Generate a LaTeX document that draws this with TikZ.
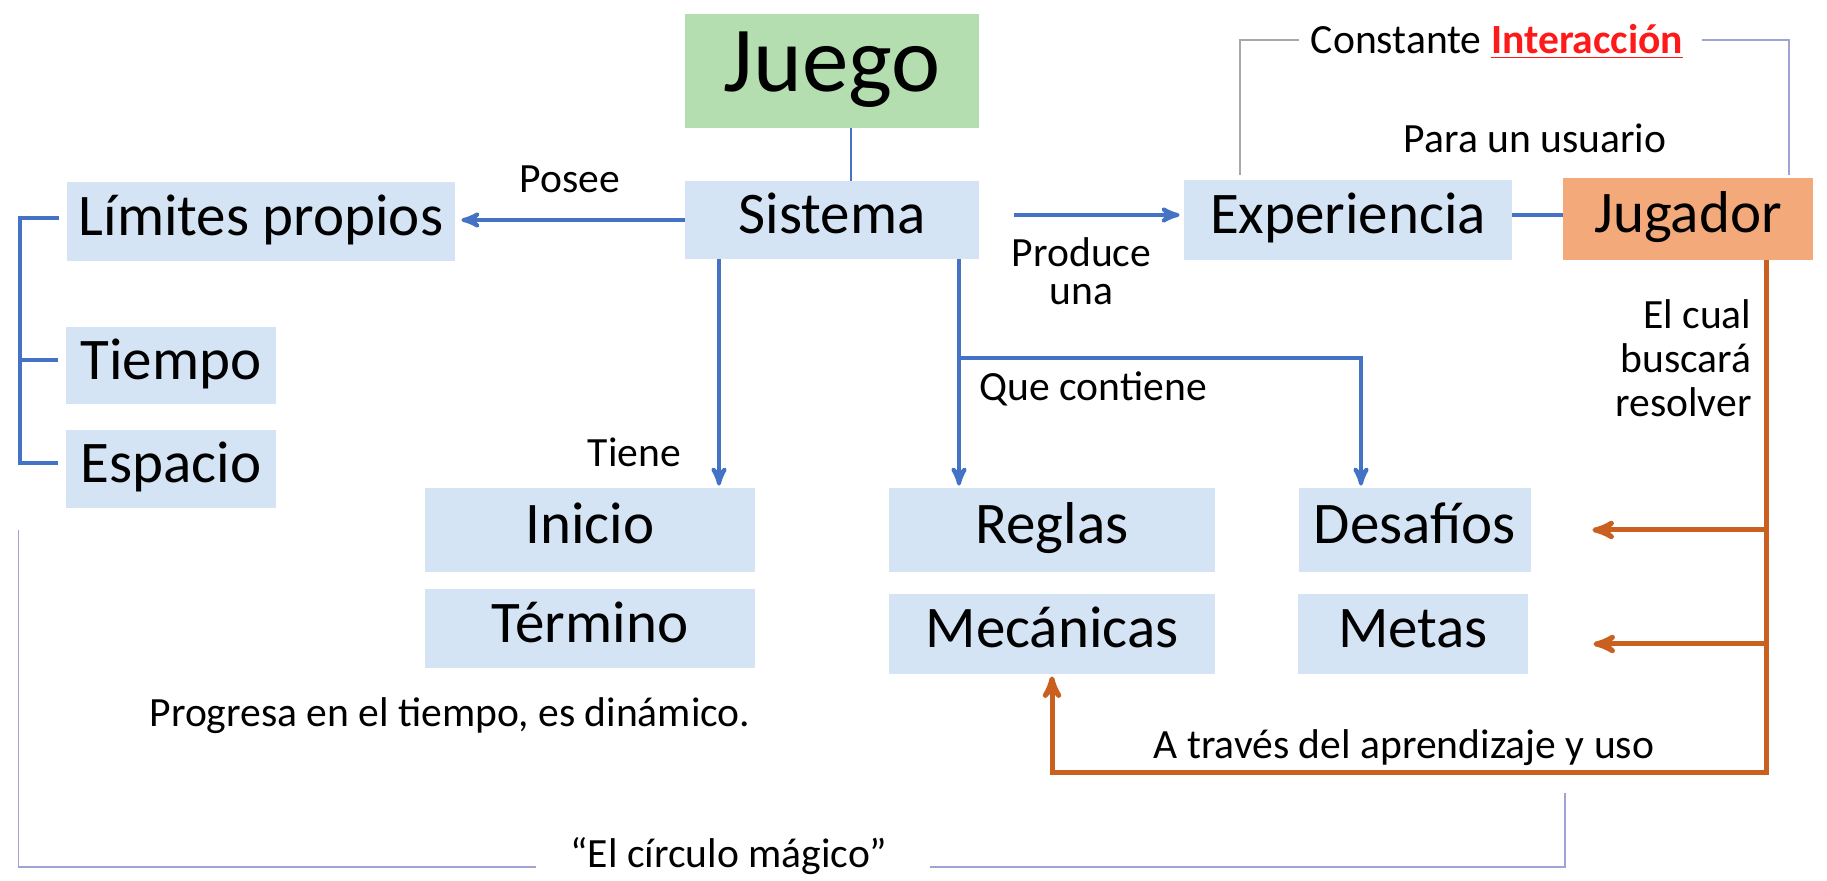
\documentclass[tikz,border=0pt]{standalone}
\usepackage{fontspec}
\setmainfont{Carlito}
\usetikzlibrary{arrows}

\definecolor{boxblue}{HTML}{D5E4F5}
\definecolor{juegogreen}{HTML}{B4DEB0}
\definecolor{jugorange}{HTML}{F4A97B}
\definecolor{lineblue}{HTML}{4472C4}
\definecolor{lineorange}{HTML}{C9601F}
\definecolor{framegray}{HTML}{A8A8A8}
\definecolor{frameblue}{HTML}{A0A3D6}
\definecolor{intred}{HTML}{FF1A1A}

\begin{document}
\begin{tikzpicture}[x=0.5pt,y=-0.5pt,>=stealth',
  box/.style={rectangle,fill=boxblue,inner sep=0pt,text height=20pt,text depth=6.5pt,
    font=\fontsize{29.5}{31}\selectfont},
  note/.style={inner sep=0pt,font=\fontsize{20.8}{22}\selectfont},
  link/.style={draw=lineblue,line width=2pt},
  feed/.style={draw=lineorange,line width=2.5pt},
  thinline/.style={line width=0.8pt}]

  \useasboundingbox (0,0) rectangle (1827,881);

  \node[box,fill=juegogreen,minimum width=147pt,minimum height=57pt,text height=31pt,text depth=10pt,
    font=\fontsize{46.5}{48}\selectfont] (juego) at (832,71) {Juego};
  \node[box,minimum width=147pt,minimum height=39pt] (sistema) at (832,220) {Sistema};
  \node[box,minimum width=194pt,minimum height=39.5pt] (limites) at (261,222) {Límites propios};
  \node[box,minimum width=105pt,minimum height=38.5pt] (tiempo) at (171,366) {Tiempo};
  \node[box,minimum width=105pt,minimum height=39pt] (espacio) at (171,469) {Espacio};
  \node[box,minimum width=165pt,minimum height=42pt] (inicio) at (590,530) {Inicio};
  \node[box,minimum width=165pt,minimum height=39.5pt] (termino) at (590,629) {Término};
  \node[box,minimum width=163pt,minimum height=42pt] (reglas) at (1052,530) {Reglas};
  \node[box,minimum width=163pt,minimum height=40pt] (mecanicas) at (1052,634) {Mecánicas};
  \node[box,minimum width=116pt,minimum height=42pt] (desafios) at (1415,530) {Desafíos};
  \node[box,minimum width=115pt,minimum height=40pt] (metas) at (1413,634) {Metas};
  \node[box,minimum width=164pt,minimum height=40pt] (experiencia) at (1348,220) {Experiencia};
  \node[box,fill=jugorange,minimum width=125pt,minimum height=41pt] (jugador) at (1688,219) {Jugador};

  \node[note,anchor=base] (inter) at (1497,54) {Constante \textcolor{intred}{\textbf{\underline{Interacción}}}};
  \node[note,anchor=base] (usuario) at (1535,153) {Para un usuario};
  \node[note,anchor=base] (progresa) at (450,727) {Progresa en el tiempo, es dinámico.};
  \node[note,anchor=base] (circulo) at (729,867) {“El círculo mágico”};
  \coordinate (circend) at (1565,793);
  \coordinate (fall) at ([xshift=39pt]jugador.south);

  \draw[link,line width=1.3pt] ([xshift=9.5pt]juego.south) -- ([xshift=9.5pt]sistema.north);
  \draw[link,->,shorten >=3pt] (sistema.west) -- node[note,above=12.5pt] {Posee} (sistema.west -| limites.east);
  \draw[link,->,shorten <=17.5pt,shorten >=2pt] ([yshift=2.5pt]sistema.east)
    -- node[note,below=10.5pt,align=center,font=\fontsize{20.8}{19}\selectfont] {Produce\\una}
    ([yshift=2.5pt]experiencia.west);
  \draw[link] ([yshift=2.5pt]experiencia.east) -- ([yshift=2.5pt]experiencia.east -| jugador.west);

  \draw[link] ([xshift=-4pt,yshift=2pt]limites.west) -- ++(-39,0) |- ([xshift=-4pt,yshift=3pt]espacio.west);
  \draw[link] ([xshift=-4pt,yshift=3pt]tiempo.west) -- ++(-39,0);

  \draw[link,->,shorten >=1pt] ([xshift=-56.5pt]sistema.south)
    -- node[note,pos=0.908,anchor=base east,xshift=-18pt] {Tiene}
    ([xshift=-56.5pt]sistema.south |- inicio.north);
  \draw[link,->,shorten >=1pt] ([xshift=63.5pt]sistema.south) -- ([xshift=63.5pt]sistema.south |- reglas.north);
  \draw[link,->,shorten >=1pt] ([xshift=63.5pt]sistema.south) ++(0,99)
    -| node[note,pos=0.167,anchor=base,yshift=-21pt] {Que contiene}
    ([xshift=-27pt]desafios.north);

  \draw[thinline,draw=framegray] ([xshift=-54pt,yshift=2.5pt]experiencia.north)
    |- ([xshift=-6pt,yshift=7pt]inter.base west);
  \draw[thinline,draw=frameblue] ([xshift=9pt,yshift=7pt]inter.base east)
    -| ([xshift=50.5pt,yshift=1.5pt]jugador.north);

  \draw[thinline,draw=frameblue] ([xshift=-23.5pt,yshift=-11pt]espacio.south west)
    |- ([xshift=-17pt]circulo.base west);
  \draw[thinline,draw=frameblue] ([xshift=21pt]circulo.base east) -| (circend);

  \draw[feed,->,shorten >=1pt] (fall)
    -- node[note,pos=0.072,anchor=north east,xshift=-6pt,align=right,font=\fontsize{20.8}{22}\selectfont]
      {El cual\\buscará\\resolver}
    ++(0,512)
    -| node[note,pos=0.2535,anchor=base,yshift=7pt] {A través del aprendizaje y uso}
    (mecanicas.south);
  \draw[feed,->] (fall |- desafios.east) -- ([xshift=30.5pt]desafios.east);
  \draw[feed,->] ([yshift=-5pt]fall |- metas.east) -- ([xshift=32.5pt,yshift=-5pt]metas.east);
\end{tikzpicture}
\end{document}
